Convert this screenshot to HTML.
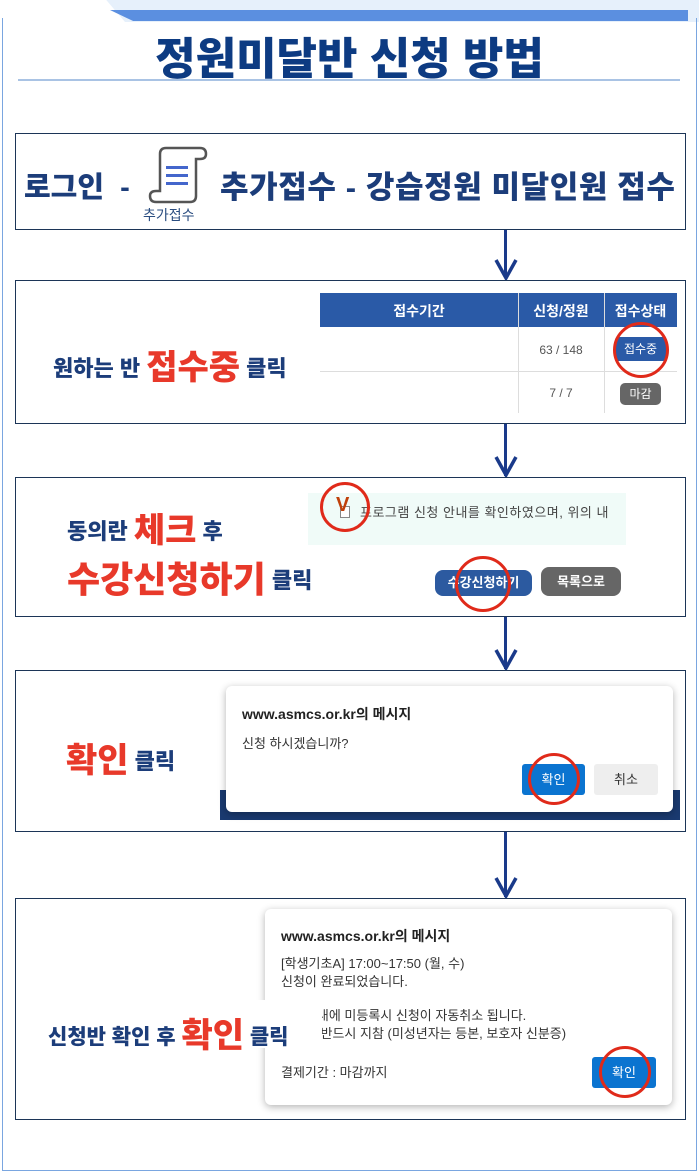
<!DOCTYPE html>
<html><head><meta charset="utf-8"><style>
*{margin:0;padding:0;box-sizing:border-box}
body{width:699px;height:1173px;background:#fff;position:relative;overflow:hidden;font-family:"Liberation Sans","Noto Sans CJK KR",sans-serif}
.a{position:absolute;white-space:nowrap}
.box{position:absolute;left:15px;width:671px;border:1.5px solid #1c3557;background:#fff}
.nv{color:#1c3d7a;font-weight:900}
.rd{color:#e8392a;font-weight:900}
.circ{position:absolute;border:3.5px solid #e02a1a;border-radius:50%}
.line{position:absolute;left:504px;width:3px;background:#1a3a8a}
.dlg{position:absolute;background:#fff;box-shadow:0 2px 8px rgba(0,0,0,.3);border-radius:6px;font-size:13px;color:#222}
</style></head><body>
<div class="a" style="left:0;top:0;width:699px;height:22px;background:#e6f0fb"></div>
<div class="a" style="left:0;top:0;width:125px;height:22px;background:#fff;clip-path:polygon(0 0,85% 0,100% 100%,0 100%)"></div>
<div class="a" style="left:110px;top:10px;width:578px;height:11px;background:#5b8fe0;clip-path:polygon(0 0,100% 0,100% 100%,4% 100%)"></div>
<div class="a" style="left:2px;top:18px;width:695px;height:1153px;border:1.5px solid #7aa6e0;border-top:none"></div>
<div class="a nv" style="left:0;top:23px;width:699px;text-align:center;font-size:44px;color:#0d3b82">정원미달반 신청 방법</div>
<div class="a" style="left:18px;top:79px;width:662px;height:1.5px;background:#a9c3e4"></div>

<div class="box" style="top:133px;height:97px"></div>
<div class="a nv" style="left:24px;top:164px;font-size:29px">로그인 &nbsp;-</div>
<svg class="a" style="left:146px;top:146px" width="62" height="58" viewBox="0 0 62 58"><path d="M14 8 Q14 2 20 2 L54 2 Q60 2 60 8 Q60 13 54 13 L50 13 L50 50 Q50 56 44 56 L10 56 Q4 56 4 50 Q4 45 10 45 L14 45 Z" fill="#fff" stroke="#555" stroke-width="2.5"/><rect x="20" y="20" width="22" height="3" fill="#4466cc"/><rect x="20" y="28" width="22" height="3" fill="#4466cc"/><rect x="20" y="36" width="22" height="3" fill="#4466cc"/></svg>
<div class="a" style="left:143px;top:205px;font-size:14px;color:#2a4d80">추가접수</div>
<div class="a nv" style="left:220px;top:162px;font-size:31px;letter-spacing:0.6px">추가접수 - 강습정원 미달인원 접수</div>
<div class="line" style="top:230px;height:48px"></div>
<svg class="a" style="left:494px;top:258px" width="24" height="22"><path d="M2 2 L12 20 L22 2" fill="none" stroke="#1a3a8a" stroke-width="3.5"/></svg>

<div class="box" style="top:280px;height:144px"></div>
<div class="a nv" style="left:53px;top:340px;font-size:22px">원하는 반 <span class="rd" style="font-size:34px;vertical-align:-3px">접수중</span> 클릭</div>
<div class="a" style="left:320px;top:293px;width:357px;height:34px;background:#2a5aa7"></div>
<div class="a" style="left:320px;top:301px;width:198px;text-align:center;color:#fff;font-size:14px;font-weight:bold">접수기간</div>
<div class="a" style="left:518px;top:301px;width:86px;text-align:center;color:#fff;font-size:14px;font-weight:bold">신청/정원</div>
<div class="a" style="left:604px;top:301px;width:73px;text-align:center;color:#fff;font-size:14px;font-weight:bold">접수상태</div>
<div class="a" style="left:518px;top:293px;width:1px;height:120px;background:#ddd"></div>
<div class="a" style="left:604px;top:293px;width:1px;height:120px;background:#ddd"></div>
<div class="a" style="left:320px;top:371px;width:357px;height:1px;background:#ddd"></div>
<div class="a" style="left:518px;top:343px;width:86px;text-align:center;font-size:12px;color:#555">63 / 148</div>
<div class="a" style="left:518px;top:386px;width:86px;text-align:center;font-size:12px;color:#555">7 / 7</div>
<div class="a" style="left:615px;top:337px;width:51px;height:24px;background:#2a5aa7;border-radius:3px;color:#fff;font-size:12px;text-align:center;line-height:24px">접수중</div>
<div class="a" style="left:620px;top:383px;width:41px;height:22px;background:#666;border-radius:5px;color:#fff;font-size:12px;text-align:center;line-height:22px">마감</div>
<div class="circ" style="left:613px;top:322px;width:56px;height:56px"></div>
<div class="line" style="top:424px;height:52px"></div>
<svg class="a" style="left:494px;top:455px" width="24" height="22"><path d="M2 2 L12 20 L22 2" fill="none" stroke="#1a3a8a" stroke-width="3.5"/></svg>

<div class="box" style="top:477px;height:140px"></div>
<div class="a nv" style="left:67px;top:503px;font-size:22px">동의란 <span class="rd" style="font-size:34px;vertical-align:-3px">체크</span> 후</div>
<div class="a nv" style="left:67px;top:551px;font-size:22px"><span class="rd" style="font-size:36px;vertical-align:-4px">수강신청하기</span> 클릭</div>
<div class="a" style="left:308px;top:493px;width:318px;height:52px;background:#f0fbf8"></div>
<div class="a" style="left:340px;top:506px;width:10px;height:12px;border:1px solid #888;background:#fff"></div>
<div class="a" style="left:336px;top:494px;font-size:20px;font-weight:bold;color:#c0400a">V</div>
<div class="a" style="left:360px;top:502px;font-size:13px;color:#444;letter-spacing:0.5px">프로그램 신청 안내를 확인하였으며, 위의 내</div>
<div class="circ" style="left:320px;top:482px;width:50px;height:50px"></div>
<div class="a" style="left:435px;top:570px;width:97px;height:26px;background:#2c5aa0;border-radius:8px;color:#fff;font-size:13px;font-weight:bold;text-align:center;line-height:26px">수강신청하기</div>
<div class="a" style="left:541px;top:567px;width:80px;height:29px;background:#666;border-radius:8px;color:#fff;font-size:13px;font-weight:bold;text-align:center;line-height:29px">목록으로</div>
<div class="circ" style="left:455px;top:556px;width:56px;height:56px"></div>
<div class="line" style="top:617px;height:52px"></div>
<svg class="a" style="left:494px;top:648px" width="24" height="22"><path d="M2 2 L12 20 L22 2" fill="none" stroke="#1a3a8a" stroke-width="3.5"/></svg>

<div class="box" style="top:670px;height:162px"></div>
<div class="a nv" style="left:66px;top:733px;font-size:22px"><span class="rd" style="font-size:34px;vertical-align:-3px">확인</span> 클릭</div>
<div class="a" style="left:220px;top:790px;width:460px;height:30px;background:#1a3a70"></div>
<div class="dlg" style="left:226px;top:686px;width:447px;height:126px"></div>
<div class="a" style="left:242px;top:704px;font-size:14px;font-weight:bold;color:#222">www.asmcs.or.kr의 메시지</div>
<div class="a" style="left:242px;top:733px;font-size:13px;color:#333">신청 하시겠습니까?</div>
<div class="a" style="left:522px;top:764px;width:63px;height:31px;background:#0b74d0;border-radius:3px;color:#fff;font-size:13px;text-align:center;line-height:31px">확인</div>
<div class="a" style="left:594px;top:764px;width:64px;height:31px;background:#eee;border-radius:3px;color:#333;font-size:13px;text-align:center;line-height:31px">취소</div>
<div class="circ" style="left:528px;top:753px;width:52px;height:52px"></div>
<div class="line" style="top:832px;height:65px"></div>
<svg class="a" style="left:494px;top:876px" width="24" height="22"><path d="M2 2 L12 20 L22 2" fill="none" stroke="#1a3a8a" stroke-width="3.5"/></svg>

<div class="box" style="top:898px;height:222px"></div>
<div class="dlg" style="left:265px;top:909px;width:407px;height:196px"></div>
<div class="a" style="left:281px;top:926px;font-size:14px;font-weight:bold;color:#222">www.asmcs.or.kr의 메시지</div>
<div class="a" style="left:281px;top:955px;font-size:13px;color:#333;line-height:18px">[학생기초A] 17:00~17:50 (월, 수)<br>신청이 완료되었습니다.</div>
<div class="a" style="left:281px;top:1007px;font-size:13px;color:#333;line-height:18px">수강안내에 미등록시 신청이 자동취소 됩니다.<br>신분증 반드시 지참 (미성년자는 등본, 보호자 신분증)</div>
<div class="a" style="left:256px;top:1000px;width:66px;height:48px;background:#fff"></div>
<div class="a" style="left:281px;top:1062px;font-size:13px;color:#333">결제기간 : 마감까지</div>
<div class="a nv" style="left:48px;top:1008px;font-size:21px">신청반 확인 후 <span class="rd" style="font-size:34px;vertical-align:-3px">확인</span> 클릭</div>
<div class="a" style="left:592px;top:1057px;width:64px;height:31px;background:#0b74d0;border-radius:3px;color:#fff;font-size:13px;text-align:center;line-height:31px">확인</div>
<div class="circ" style="left:599px;top:1046px;width:52px;height:52px"></div>
</body></html>
